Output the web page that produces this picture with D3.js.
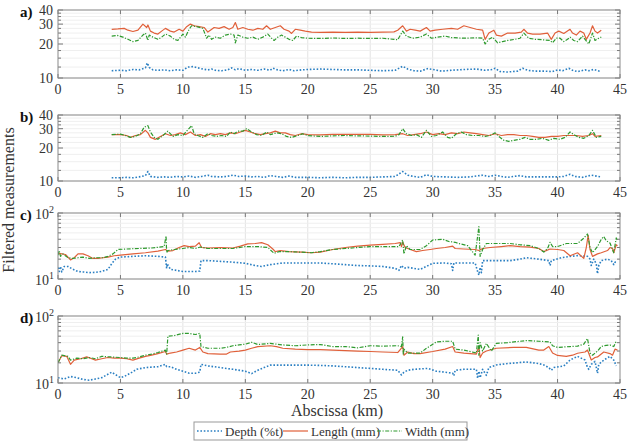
<!DOCTYPE html>
<html>
<head>
<meta charset="utf-8">
<script src="https://cdn.jsdelivr.net/npm/d3@7"></script>
<style>
  body { margin: 0; background: #fff; }
  text { font-family: "Liberation Serif", "Times New Roman", serif; fill: #333; }
</style>
</head>
<body>
<div id="graph"></div>
<script>
// ---- data: [km, value] ----
const aDepth = [[4.3,11.6],[5,11.7],[5.5,11.6],[6,11.9],[6.5,11.8],[7,12.3],[7.15,13.6],[7.3,12.4],[7.6,11.8],[8,11.7],[8.5,11.8],[9,11.6],[9.5,11.8],[10,11.7],[10.4,12.5],[10.8,12.6],[11.2,12.3],[11.6,12],[12,11.8],[12.3,12],[12.6,11.7],[13.1,11.6],[13.6,11.8],[13.9,12.3],[14.2,11.8],[14.5,12.1],[15,11.7],[15.5,11.9],[16,11.7],[16.5,12],[17,11.7],[17.2,12.2],[17.6,11.8],[18,11.6],[18.5,11.9],[18.9,11.6],[19.5,11.8],[20,11.9],[21,12],[22,11.9],[23,11.8],[24,11.8],[25,11.7],[26,11.6],[27,11.7],[27.6,12.7],[28,12],[28.5,11.6],[29,11.5],[29.6,12.1],[30.2,11.8],[30.7,11.5],[31.5,11.7],[32.5,11.9],[33.5,12],[34.2,11.7],[34.8,11.9],[35,12.2],[35.4,11.4],[36,11.3],[36.8,11.5],[37.2,12.2],[37.6,11.7],[38.2,11.5],[39,11.5],[39.6,11.4],[40,11.8],[40.4,11.6],[40.9,12.2],[41.2,11.7],[41.6,11.4],[42.2,11.8],[42.5,11.6],[42.9,11.9],[43.2,11.6],[43.5,11.4]];
const aLength = [[4.3,27],[4.8,27.2],[5.3,27.5],[5.6,26.5],[6,25.8],[6.4,26.5],[6.8,30],[7.1,28],[7.2,29.5],[7.4,26],[7.7,25],[8,24.5],[8.3,26],[8.6,27.5],[9,26],[9.3,25.5],[9.7,27],[10,26],[10.3,28.5],[10.6,30],[10.9,29],[11.3,28.5],[11.7,28],[12,25.5],[12.2,26.5],[12.5,28],[12.9,27.5],[13.3,28.5],[13.7,27],[14,28],[14.2,31],[14.4,27],[14.8,28],[15.2,27],[15.6,26.5],[16,27.5],[16.4,27],[16.7,29],[17,27],[17.4,28],[17.8,29],[18.1,27],[18.5,26],[18.7,24.8],[19,27],[19.4,26.5],[19.8,26],[20.3,25.5],[21,25.3],[22,25.5],[23,25.3],[24,25.5],[25,25.4],[26,25.5],[26.9,25.6],[27.2,26.5],[27.6,29],[27.9,26],[28.2,27],[28.6,26.5],[29,26],[29.5,28],[29.8,26],[30.2,26.5],[30.8,27],[31.5,27.5],[32,27],[32.5,29],[33,28],[33.5,27],[34,26.5],[34.2,22],[34.5,25],[34.9,26.5],[35.1,24],[35.5,23.5],[36,25],[36.6,25],[37.1,25.5],[37.3,27],[37.6,25],[38,24.5],[38.6,24.5],[39.2,25],[39.5,22],[39.8,25],[40.1,26],[40.5,24.8],[41,27],[41.2,25],[41.5,24],[41.8,26],[42.1,25],[42.3,22],[42.6,25],[42.8,29],[43,26],[43.2,25],[43.5,26.5]];
const aWidth = [[4.3,23.5],[4.8,23.8],[5.2,23],[5.6,22],[6,21],[6.4,21.5],[6.8,24],[7,25],[7.2,21.5],[7.3,24],[7.6,23],[8,22],[8.3,23],[8.6,24.5],[9,23.5],[9.3,22],[9.6,21.5],[10,24.5],[10.2,23],[10.5,27],[10.7,29],[11.1,28.5],[11.6,27.5],[11.9,22.5],[12.1,24],[12.3,22],[12.6,23],[13,22.5],[13.4,24],[13.8,24.5],[14.1,24],[14.2,20.5],[14.4,24],[14.8,23],[15.2,22.5],[15.6,23],[16,22],[16.4,23],[16.8,24.5],[17.1,22.5],[17.3,21.5],[17.6,23],[17.9,24],[18.2,23],[18.5,22],[18.8,21.5],[19.1,23.5],[19.5,22.8],[20,22.5],[21,22.4],[22,22.6],[23,22.4],[24,22.5],[25,22.4],[26,22.5],[26.9,22],[27.2,21.8],[27.6,26],[27.9,23.5],[28.4,22.5],[29,23],[29.5,24.5],[29.9,22.5],[30.4,23],[31,23.5],[31.5,22.8],[32.5,22.5],[33.5,22.7],[34,22.5],[34.2,20],[34.5,22],[34.8,23],[35.2,20.5],[35.6,21],[36,21.5],[36.6,22],[37,22.5],[37.3,25],[37.7,22.5],[38.2,22],[38.8,21.8],[39.4,21.5],[39.6,20.5],[39.9,22.5],[40.2,22.5],[40.5,21],[40.8,22],[41,23],[41.3,21.5],[41.6,21],[42,23.5],[42.2,22],[42.5,20],[42.8,25],[43,21.5],[43.3,22.5],[43.5,23]];

const bDepth = [[4.3,10.7],[5,10.7],[5.5,10.8],[6,10.7],[6.5,10.9],[7,11.2],[7.2,12.2],[7.4,11],[8,10.8],[8.5,10.9],[9,10.8],[9.5,11],[10,10.9],[10.5,11.1],[11,10.8],[11.5,11],[12,11.3],[12.3,11],[13,10.9],[13.5,11],[14,11.3],[14.5,11],[15,11.1],[15.5,10.9],[16,11],[16.5,10.8],[17,11.2],[17.5,11],[18,10.8],[18.5,11.1],[19,10.8],[20,10.8],[21,10.7],[22,10.8],[23,10.7],[24,10.8],[25,10.8],[26,10.9],[27,11],[27.6,12.2],[28,11.3],[28.5,11],[29,10.8],[29.5,11.4],[30,11],[31,10.9],[32,10.8],[33,10.9],[34,11.3],[34.5,11],[35,11.3],[35.5,11],[36,10.8],[37,11.2],[37.5,10.9],[38,10.9],[39,10.9],[40,10.9],[40.5,11],[41,11.5],[41.4,11],[42,10.8],[42.7,11.3],[43.5,10.9]];
const bLength = [[4.3,26.5],[5,26.5],[5.5,26],[5.8,25],[6.2,26],[6.6,26.5],[7,29],[7.2,27.5],[7.4,25],[7.8,24],[8.2,25.5],[8.6,27],[9,26],[9.4,26.5],[9.8,27.5],[10.2,26.5],[10.6,28],[11,26],[11.4,26.5],[11.8,25.5],[12.2,27],[12.6,26.5],[13,27],[13.4,26.5],[13.8,27.5],[14.2,27],[14.6,28],[15,29],[15.4,28],[15.8,27],[16.2,26.5],[16.6,27],[17,27.5],[17.4,28.5],[17.8,27.5],[18.2,27.5],[18.6,26.5],[19,26],[19.5,27],[20,26.5],[21,26.3],[22,26.6],[23,26.7],[24,26.6],[25,26.6],[26,26.4],[27,26.5],[27.6,27],[28,26],[28.5,26.5],[29,27],[29.5,28],[30,26.5],[30.5,27],[31,26.5],[31.5,27.5],[32,27],[32.5,28],[33,27.5],[33.5,27],[34,26.5],[34.5,26],[35,27],[35.5,26],[36,26.5],[36.5,26.5],[37,26],[37.5,26],[38,25.5],[38.5,25],[39,25],[39.5,25.5],[40,25.5],[40.5,26],[41,26],[41.5,26],[42,25.5],[42.5,26],[42.8,27],[43,25.5],[43.5,26]];
const bWidth = [[4.3,26.5],[5,26.8],[5.4,26],[5.8,25],[6.2,25.5],[6.6,27],[6.9,31],[7.2,32],[7.4,28],[7.7,25],[8,24],[8.4,26],[8.8,28.5],[9.2,25.5],[9.6,26.5],[10,26],[10.3,28.5],[10.7,32],[10.9,27],[11.2,26],[11.6,25],[12,27],[12.3,26],[12.7,25.5],[13.1,26],[13.5,25.5],[13.8,28],[14.1,27],[14.4,28.5],[14.8,28.5],[15.1,30],[15.5,28],[15.9,26.5],[16.3,26],[16.7,28],[17,26.5],[17.5,27.5],[17.9,27],[18.3,25.5],[18.7,25],[19.2,26],[19.6,27],[20,26],[21,25.5],[22,25.8],[23,26],[24,25.8],[25,25.7],[26,25.5],[27,25.6],[27.3,26.5],[27.6,30],[27.9,27],[28.3,26],[28.7,26.5],[29.1,25],[29.5,29],[29.9,25.5],[30.3,26],[30.8,28],[31.2,25],[31.5,24.5],[31.9,27],[32.3,28],[32.7,26.5],[33.2,26],[33.7,26],[34.2,25.5],[34.6,26],[35,27.5],[35.3,25.5],[35.7,23.5],[36.1,23],[36.5,23.5],[37,24],[37.4,25],[37.8,24],[38.3,24],[38.8,24.5],[39.3,23.5],[39.7,24.5],[40.2,24],[40.6,25],[41,28],[41.3,26.5],[41.7,25],[42.1,24.5],[42.5,26],[42.8,29],[43.1,25],[43.5,25.5]];

const cDepth = [[0,15],[0.1,13],[0.2,15.5],[0.3,12.8],[0.5,15.5],[0.8,15.5],[1.2,14],[1.6,13],[2,12.8],[2.5,12.5],[3,12.6],[3.5,13],[4,14],[4.3,17],[4.6,20],[5,21.5],[6,22],[7,22.5],[8,22],[8.6,21.5],[8.7,14.5],[8.75,17],[9,14],[9.5,13.5],[10,13],[11,13],[11.35,13.2],[11.45,19],[12,19],[13,18.5],[14,18],[15,17.3],[15.8,16],[16.3,15.5],[17,16.5],[18,17.5],[19,17.5],[20,17.5],[21,17.5],[22,17],[23,16.5],[24,16],[25,15.8],[26,15.5],[27,14.5],[27.3,13.5],[27.5,16],[27.7,14.5],[28,15],[28.5,14.5],[29,14],[29.5,15.5],[30,17.3],[31,17.5],[31.5,17],[31.6,13.5],[31.7,17.5],[32.5,17.5],[33.4,17.5],[33.6,13],[33.7,11.5],[33.8,15],[33.9,12.5],[34,19],[35,19],[36.2,19],[37,20],[37.5,21],[38.5,20],[39.3,19],[39.4,16],[39.5,19],[40.3,21],[41,22],[41.6,22.6],[42.4,22],[42.6,20],[42.7,16],[42.9,20],[43.1,17],[43.2,12],[43.3,16],[43.5,19],[44,20],[44.3,19],[44.5,16.5],[44.6,18],[44.8,18.5]];
const cLength = [[0,24.5],[0.3,24],[0.6,23.5],[1,19.5],[1.3,21],[1.6,24],[2,24],[2.4,22.5],[2.8,20.5],[3.2,20.5],[3.6,21],[4,21.5],[4.5,22.5],[5,23],[6,24],[7,25],[8,26.5],[8.6,28],[8.8,26.5],[9.2,27],[9.7,30],[10.1,32],[10.5,31],[11,31.5],[11.3,35.5],[11.5,30],[12,29.5],[13,30],[14,29.5],[14.6,31.5],[15.2,34],[15.8,34.5],[16.3,35.5],[16.8,33],[17.2,28.5],[17.4,26],[17.8,27],[18.5,26],[19.5,25.5],[20.3,25],[21,25.5],[22,28],[23,30],[24,31.5],[25,32.5],[26,33.5],[27,34.5],[27.4,35.5],[27.5,31],[27.6,36],[27.8,30],[28.2,28],[28.7,26],[29.2,27],[29.8,28],[30.3,29],[31,30],[31.6,31.5],[31.8,29],[32.5,28.5],[33.4,28],[33.7,27],[34,29],[34.6,30],[35.5,31],[36.2,32],[37,31],[37.8,30.5],[38.5,29],[38.9,26],[39.4,28.5],[40,28],[40.5,27],[41,22.5],[41.6,25],[42.1,20.5],[42.3,30],[42.45,46],[42.6,28],[42.8,22],[43.2,24],[43.5,25],[44,27],[44.2,30],[44.4,29],[44.5,25],[44.7,33],[44.8,32]];
const cWidth = [[0,23],[0.1,27],[0.2,22],[0.4,24],[0.8,21],[1.2,20.5],[1.6,21],[2,21.5],[2.5,20.5],[3,21],[3.6,21],[4,22],[4.4,24],[4.8,28],[5.5,28.5],[6.5,29],[7.5,29.5],[8.5,31],[8.65,45],[8.7,25],[8.8,27],[9.3,28],[10,29],[10.5,30],[11,29],[11.4,30.5],[12,29],[13,29],[14,29],[15,31],[16,31],[16.8,30],[17.3,24.5],[17.7,26],[18.5,26],[19.5,25.5],[20.3,25],[21,26],[22,28],[23,29],[24,30],[25,31],[26,31],[27.3,31],[27.6,39],[27.7,24],[27.9,32],[28.2,28],[29,28],[29.5,32],[30,39],[30.8,40],[31.3,37],[31.8,36],[32.1,34.5],[32.8,32],[33.4,23],[33.7,62],[33.8,22],[34,28],[34.3,34.5],[35,34.5],[36.2,34.5],[37,33],[37.8,32],[38.5,29],[38.9,25.6],[39.2,29],[39.4,36],[39.6,31],[40,31],[40.7,34.5],[41.6,34.5],[42,40],[42.4,48],[42.6,30],[42.8,25],[43.2,31],[43.5,40],[43.7,44],[43.9,38],[44.2,35],[44.4,28],[44.5,25],[44.7,42],[44.8,38]];

const dDepth = [[0,12],[0.5,11.5],[1,12.5],[1.5,12],[2,11.3],[2.5,11],[3,11.5],[3.5,12],[4.3,14.5],[4.7,13],[5,12],[5.3,12.5],[5.8,14],[6.3,16],[7,17],[8,17.5],[8.6,19],[8.7,17.5],[9,17.5],[9.5,16],[10,15],[10.5,14],[11,14],[11.35,14.5],[11.45,19],[12,18],[13,17],[14,16],[15,15],[15.5,13.8],[16,15.5],[16.5,17],[17,18.5],[18,18.5],[19,18.5],[20,18.5],[21,18.3],[22,18],[23,17.5],[24,17],[25,16.5],[26,16],[27.2,15.5],[27.5,13.2],[27.7,14.5],[28,15.5],[28.5,16],[29.6,16.5],[30.3,15],[31,14.5],[31.6,14],[31.7,12.8],[31.8,15.5],[32.5,16],[33.5,16],[33.6,11.7],[33.7,15],[33.8,12],[34,16],[34.3,13],[34.5,17],[35.1,18.6],[36,19.5],[37.5,20.6],[38.5,19.5],[38.9,18.6],[39.3,17],[39.5,15.5],[39.7,17],[40.5,18],[41,22],[41.6,25],[42.2,22],[42.4,17],[42.5,16],[42.7,19],[43,21],[43.2,14],[43.3,19],[43.7,22],[44.2,25],[44.5,22],[44.7,18]];
const dLength = [[0,20],[0.3,25.5],[0.7,25],[1,19],[1.3,22],[1.8,23],[2.3,24.5],[2.7,23],[3,22],[3.5,23],[4,24],[4.5,23.5],[5,23.5],[5.5,23],[6,22],[6.5,23.5],[7,25],[7.5,26],[8,27.5],[8.6,29.5],[8.7,27],[9,28],[9.5,29],[10,31],[10.5,33],[11,31],[11.35,34],[11.6,29],[12,27.5],[13,27],[13.5,27],[13.8,29],[14.5,30],[15,31],[15.5,33],[16,35],[17,36],[17.5,35],[18,33],[19,32],[20,31.5],[21,31.5],[22,31],[23,30.5],[24,30],[25,29.5],[26,29],[27.2,28.5],[27.6,35],[27.7,26],[28,29],[28.5,27.5],[29,27.5],[30,29.5],[31,32],[31.6,35],[31.8,29],[32.5,28],[33.5,27],[33.7,35],[33.8,24],[34,28],[34.3,30],[35.1,33],[36.5,34],[37.5,34],[38.5,31],[38.9,31],[39.3,35],[39.6,28],[40,25.8],[40.7,25],[41.2,26],[41.6,27.8],[42.2,29],[42.4,31],[42.7,22],[43,24],[43.2,24.5],[43.7,29],[44.2,27.5],[44.4,26],[44.6,32],[44.8,31]];
const dWidth = [[0,20],[0.3,26],[0.8,25],[1,22],[1.5,23.5],[2,23],[2.5,24],[3,23],[3.5,25],[4.2,24.5],[5,24],[5.5,23.5],[6,23.5],[6.5,24.5],[7,26],[7.5,27],[8,28.5],[8.6,31],[8.7,27],[8.8,50],[9.3,51],[10,55],[10.5,55],[11,53],[11.35,55],[11.45,35],[12,33],[13,33],[13.5,34],[14,36],[14.5,37],[15,38],[15.5,40.5],[16,37.5],[17,39],[17.5,38],[18,37],[19,36],[20,37],[21,37.5],[22,35],[23,35],[24,33.5],[25,36],[26,35.5],[27.2,36],[27.5,35],[27.6,49],[27.65,26],[27.7,32],[28,28],[28.5,28],[29,28],[29.5,33],[30.3,41],[31,42],[31.6,42],[31.8,32],[32.5,31],[33.5,28],[33.65,52],[33.7,26],[33.8,40],[34,30],[34.3,39],[34.7,30],[35.1,39],[36,40],[37.5,43],[38.5,42],[39.4,41],[39.6,36],[40,34],[41,35],[41.6,35.5],[42.1,38],[42.4,46],[42.6,28],[42.8,26],[43.2,30],[43.5,35],[43.7,36],[44.2,37],[44.5,35],[44.7,42]];

const xTicks = [0, 5, 10, 15, 20, 25, 30, 35, 40, 45];
const linTicks = [10, 20, 30, 40];
const linMinor = [12.5, 15, 17.5, 22.5, 25, 27.5, 32.5, 35, 37.5];
const logTicks = [10, 100];
const logMinor = [20, 30, 40, 50, 60, 70, 80, 90];
const seriesNames = ["Depth (%t)", "Length (mm)", "Width (mm)"];
const panelLabels = ["a)", "b)", "c)", "d)"];

const colors = ["#2a7fc2", "#e0603a", "#2e9a2e"];
const dashes = ["1.6,1.8", null, "4,1.5,1.2,1.5"];
const widths = [1.6, 1.2, 1.2];

const W = 637, H = 445;
const left = 58, right = 620;

let svg = d3.select("#graph")
    .append("svg")
    .attr("width", W)
    .attr("height", H);

let x = d3.scaleLinear().domain([0, 45]).range([left, right]);

let panels = [
    { top: 10, bottom: 78, dom: [10, 40], ticks: linTicks, minor: linMinor, log10: false, data: [aDepth, aLength, aWidth] },
    { top: 115, bottom: 181, dom: [10, 40], ticks: linTicks, minor: linMinor, log10: false, data: [bDepth, bLength, bWidth] },
    { top: 213, bottom: 279, dom: [10, 100], ticks: logTicks, minor: logMinor, log10: true, data: [cDepth, cLength, cWidth] },
    { top: 316, bottom: 383, dom: [10, 100], ticks: logTicks, minor: logMinor, log10: true, data: [dDepth, dLength, dWidth] }
];

panels.forEach((p, i) => {
    let y = d3.scaleLog().domain(p.dom).range([p.bottom, p.top]);
    let g = svg.append("g");

    // grid
    g.selectAll(".vg").data(xTicks.slice(1, -1)).join("line")
        .attr("x1", d => x(d)).attr("x2", d => x(d))
        .attr("y1", p.top).attr("y2", p.bottom)
        .attr("stroke", "#e3e3e3").attr("stroke-width", 1);
    g.selectAll(".hg").data(p.minor.concat(p.ticks)).join("line")
        .attr("x1", left).attr("x2", right)
        .attr("y1", d => y(d)).attr("y2", d => y(d))
        .attr("stroke", "#efefef").attr("stroke-width", 1);

    // lines
    let clipId = "clip" + i;
    g.append("clipPath").attr("id", clipId).append("rect")
        .attr("x", left).attr("y", p.top).attr("width", right - left).attr("height", p.bottom - p.top);
    let line = d3.line().x(d => x(d[0])).y(d => y(d[1]));
    p.data.forEach((s, k) => {
        g.append("path")
            .datum(s)
            .attr("clip-path", `url(#${clipId})`)
            .attr("d", line)
            .attr("fill", "none")
            .attr("stroke", colors[k])
            .attr("stroke-width", widths[k])
            .attr("stroke-dasharray", dashes[k])
            .attr("stroke-linejoin", "round");
    });

    // x axis: inward ticks top & bottom
    g.selectAll(".xt").data(xTicks).join("line")
        .attr("x1", d => x(d)).attr("x2", d => x(d))
        .attr("y1", p.bottom).attr("y2", p.bottom - 4)
        .attr("stroke", "#777");
    g.selectAll(".xt2").data(xTicks).join("line")
        .attr("x1", d => x(d)).attr("x2", d => x(d))
        .attr("y1", p.top).attr("y2", p.top + 4)
        .attr("stroke", "#777");
    g.selectAll(".xl").data(xTicks).join("text")
        .attr("x", d => x(d)).attr("y", p.bottom + 16)
        .attr("text-anchor", "middle")
        .attr("font-size", 14)
        .text(d => d);

    // y ticks, both sides
    let allY = p.ticks.concat(p.minor);
    [left, right].forEach(xx => {
        let dir = xx === left ? 1 : -1;
        g.selectAll(null).data(allY).join("line")
            .attr("x1", xx).attr("x2", d => xx + dir * (p.ticks.includes(d) ? 5 : 3))
            .attr("y1", d => y(d)).attr("y2", d => y(d))
            .attr("stroke", "#777");
    });

    // y tick labels
    if (!p.log10) {
        g.selectAll(".yl").data(p.ticks).join("text")
            .attr("x", left - 5).attr("y", d => y(d) + 5)
            .attr("text-anchor", "end")
            .attr("font-size", 14)
            .text(d => d);
    } else {
        p.ticks.forEach(t => {
            let tx = g.append("text")
                .attr("x", left - 4).attr("y", y(t) + 6)
                .attr("text-anchor", "end")
                .attr("font-size", 14);
            tx.append("tspan").text("10");
            tx.append("tspan").attr("dy", -6).attr("font-size", 10).text(Math.log10(t));
        });
    }

    // frame
    g.append("rect")
        .attr("x", left).attr("y", p.top)
        .attr("width", right - left).attr("height", p.bottom - p.top)
        .attr("fill", "none").attr("stroke", "#8a8a8a").attr("stroke-width", 1);

    // panel label
    g.append("text")
        .attr("x", 20).attr("y", p.top + 7)
        .attr("font-size", 15).attr("font-weight", "bold")
        .style("fill", "#111")
        .text(panelLabels[i]);
});

// y axis title
svg.append("text")
    .attr("transform", "translate(14,200) rotate(-90)")
    .attr("text-anchor", "middle")
    .attr("font-size", 16)
    .text("Filtered measurements");

// x axis title
svg.append("text")
    .attr("x", 337).attr("y", 416)
    .attr("text-anchor", "middle")
    .attr("font-size", 16)
    .text("Abscissa (km)");

// legend
let lg = svg.append("g");
lg.append("rect")
    .attr("x", 194).attr("y", 422).attr("width", 273).attr("height", 18)
    .attr("fill", "#fff").attr("stroke", "#999");
let legX = [197, 283, 377];
seriesNames.forEach((n, k) => {
    lg.append("line")
        .attr("x1", legX[k]).attr("x2", legX[k] + 25)
        .attr("y1", 431).attr("y2", 431)
        .attr("stroke", colors[k])
        .attr("stroke-width", widths[k])
        .attr("stroke-dasharray", dashes[k]);
    lg.append("text")
        .attr("x", legX[k] + 28).attr("y", 435.5)
        .attr("font-size", 13)
        .text(n);
});
</script>
</body>
</html>
